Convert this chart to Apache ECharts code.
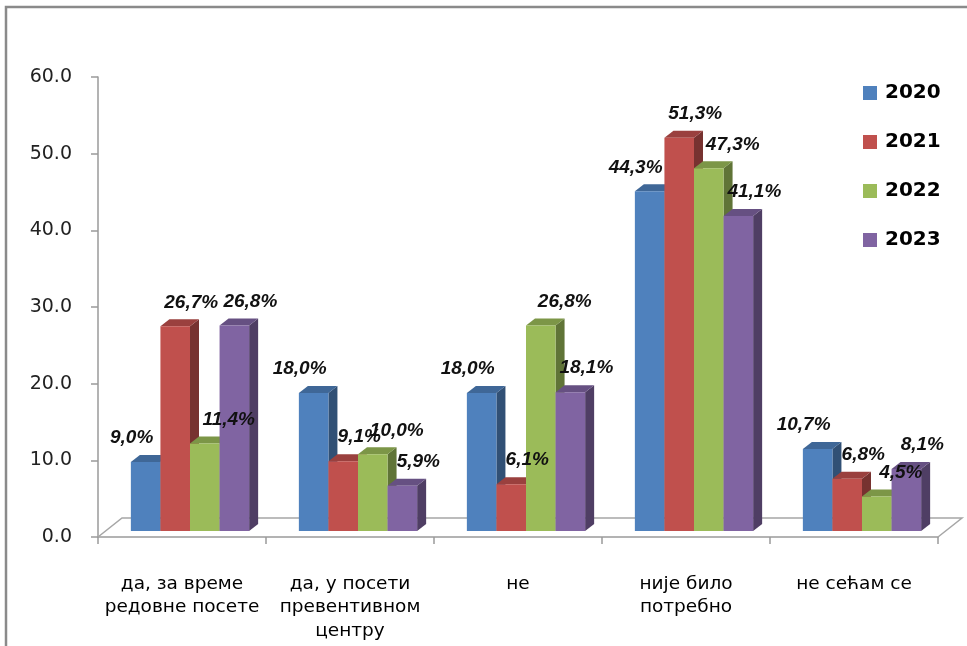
<!DOCTYPE html>
<html>
<head>
<meta charset="utf-8">
<script src="https://cdn.jsdelivr.net/npm/echarts@6/dist/echarts.min.js"></script>
<style>
  html, body { margin: 0; padding: 0; background: #fff; }
  #chart { width: 967px; height: 646px; }
</style>
</head>
<body>
<div id="chart"></div>
<script>
const categories = [
  "да, за време\nредовне посете",
  "да, у посети\nпревентивном\nцентру",
  "не",
  "није било\nпотребно",
  "не сећам се",
]
const years = ["2020", "2021", "2022", "2023"]
const values2020 = [9.0, 18.0, 18.0, 44.3, 10.7]
const values2021 = [26.7, 9.1, 6.1, 51.3, 6.8]
const values2022 = [11.4, 10.0, 26.8, 47.3, 4.5]
const values2023 = [26.8, 5.9, 18.1, 41.1, 8.1]
const yTicks = [0, 10, 20, 30, 40, 50, 60]

const seriesValues = [values2020, values2021, values2022, values2023]
const colors = ["#4F81BD", "#C0504D", "#9BBB59", "#8064A2"]
// labels in the original are nudged sideways a little per series
const labelShift = [-14, 16, 24, 16]

// fake 3D look like the Excel original
const FRONT_X = 8, FRONT_Y = -6   // bar front sits a bit into the floor
const DEPTH_X = 9, DEPTH_Y = -7   // bar depth
const FLOOR_X = 24, FLOOR_Y = -19 // floor depth
const BAR_FRAC = 0.176            // bar width as part of a category

function shade(hex, f) {
  const n = parseInt(hex.slice(1), 16)
  const r = Math.round(((n >> 16) & 255) * f)
  const g = Math.round(((n >> 8) & 255) * f)
  const b = Math.round((n & 255) * f)
  return "rgb(" + r + "," + g + "," + b + ")"
}

function fmt(v) {
  return v.toFixed(1).replace(".", ",") + "%"
}

function makeRender(idx) {
  const color = colors[idx]
  return function (params, api) {
    const cat = api.value(0)
    const v = api.value(1)
    const base = api.coord([cat, 0])
    const top = api.coord([cat, v])
    const band = api.size([1, 0])[0]
    const w = band * BAR_FRAC
    const x0 = base[0] - (w * years.length) / 2 + idx * w + FRONT_X
    const x1 = x0 + w
    const yb = base[1] + FRONT_Y
    const yt = top[1] + FRONT_Y
    return {
      type: "group",
      children: [
        {
          type: "polygon",
          shape: { points: [[x1, yb], [x1 + DEPTH_X, yb + DEPTH_Y], [x1 + DEPTH_X, yt + DEPTH_Y], [x1, yt]] },
          style: { fill: shade(color, 0.62) },
        },
        {
          type: "polygon",
          shape: { points: [[x0, yt], [x0 + DEPTH_X, yt + DEPTH_Y], [x1 + DEPTH_X, yt + DEPTH_Y], [x1, yt]] },
          style: { fill: shade(color, 0.8) },
        },
        {
          type: "rect",
          shape: { x: x0, y: yt, width: w, height: yb - yt },
          style: { fill: color },
        },
        {
          type: "text",
          x: (x0 + x1) / 2 + labelShift[idx],
          y: yt - 24,
          style: {
            text: fmt(v),
            fill: "#111",
            fontFamily: "Liberation Sans",
            fontStyle: "italic",
            fontWeight: "bold",
            fontSize: 19,
            align: "center",
            verticalAlign: "middle",
          },
          z2: 10,
        },
      ],
    }
  }
}

const floorSeries = {
  type: "custom",
  name: "floor",
  silent: true,
  z: 1,
  data: [[0, 0]],
  renderItem: function (params, api) {
    const cs = params.coordSys
    const left = cs.x, right = cs.x + cs.width, bottom = cs.y + cs.height
    return {
      type: "polyline",
      shape: {
        points: [
          [left, bottom],
          [left + FLOOR_X, bottom + FLOOR_Y],
          [right + FLOOR_X, bottom + FLOOR_Y],
          [right, bottom],
        ],
      },
      style: { stroke: "#A6A6A6", lineWidth: 1.5, fill: null },
    }
  },
}

const barSeries = years.map(function (name, idx) {
  return {
    type: "custom",
    name: name,
    z: 3,
    itemStyle: { color: colors[idx] },
    data: seriesValues[idx].map(function (v, i) { return [i, v] }),
    renderItem: makeRender(idx),
    encode: { x: 0, y: 1 },
  }
})

const chart = echarts.init(document.getElementById("chart"))

const option = {
  animation: false,
  backgroundColor: "#fff",
  graphic: [
    {
      type: "rect",
      shape: { x: 6, y: 7, width: 1000, height: 700 },
      style: { fill: null, stroke: "#8A8A8A", lineWidth: 2.5 },
      silent: true,
    },
  ],
  grid: { left: 98, right: 29, top: 77, bottom: 109 },
  legend: {
    orient: "vertical",
    left: 858,
    top: 78,
    data: years,
    icon: "rect",
    itemWidth: 14,
    itemHeight: 14,
    itemGap: 29,
    textStyle: {
      fontFamily: "DejaVu Sans",
      fontWeight: "bold",
      fontSize: 20,
      color: "#000",
      padding: [0, 0, 0, 3],
    },
  },
  xAxis: {
    type: "category",
    data: categories,
    boundaryGap: true,
    axisLine: { lineStyle: { color: "#9A9A9A", width: 1.5 } },
    axisTick: { show: true, length: 7, lineStyle: { color: "#9A9A9A", width: 1.5 } },
    axisLabel: {
      interval: 0,
      margin: 35,
      fontFamily: "DejaVu Sans",
      fontSize: 18.5,
      lineHeight: 23.5,
      color: "#000",
    },
    splitLine: { show: false },
  },
  yAxis: {
    type: "value",
    min: yTicks[0],
    max: yTicks[yTicks.length - 1],
    interval: yTicks[1] - yTicks[0],
    axisLine: { show: true, lineStyle: { color: "#9A9A9A", width: 1.5 } },
    axisTick: { show: true, length: 7, lineStyle: { color: "#9A9A9A", width: 1.5 } },
    axisLabel: {
      margin: 26,
      fontFamily: "DejaVu Sans",
      fontSize: 19,
      color: "#222",
      formatter: function (value) {
        return value.toFixed(1)
      },
    },
    splitLine: { show: false },
  },
  series: [floorSeries].concat(barSeries),
}

chart.setOption(option)
</script>
</body>
</html>
